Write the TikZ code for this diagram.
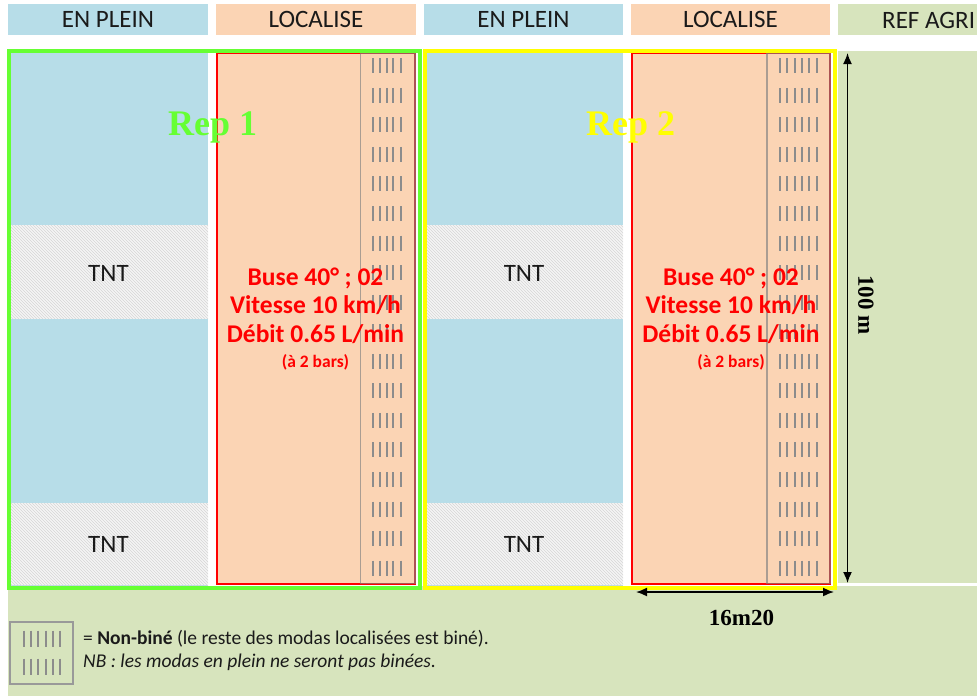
\documentclass[tikz,border=0pt]{standalone}
\usepackage{fontspec}
\setmainfont{Carlito}
\newfontfamily\timesf{Liberation Serif}
\usetikzlibrary{patterns,arrows.meta}
\definecolor{bluef}{HTML}{B7DDE8}
\definecolor{orangef}{HTML}{FBD4B4}
\definecolor{greenf}{HTML}{D7E4BD}
\definecolor{repgreen}{HTML}{66FF33}
\definecolor{repyellow}{HTML}{FFFF00}
\definecolor{dashg}{HTML}{8C8C8C}
\definecolor{txt}{HTML}{1A1A1A}
\begin{document}
\begin{tikzpicture}[x=1pt,y=-1pt,
  hdrbox/.style={minimum height=31, inner sep=0, font=\fontsize{25}{25}\selectfont, text=txt},
  tnt/.style={pattern=north west lines, pattern color=gray!32},
  tntlabel/.style={font=\fontsize{25}{25}\selectfont, text=txt, anchor=base},
  redtxt/.style={font=\bfseries\fontsize{25.5}{25.5}\selectfont, text=red, anchor=base},
  redsmall/.style={font=\bfseries\fontsize{17.5}{18}\selectfont, text=red, anchor=base},
  replabel/.style={font=\timesf\bfseries\fontsize{36}{36}\selectfont, anchor=base west},
  dimlabel/.style={font=\timesf\bfseries\fontsize{23}{23}\selectfont, text=black},
  dashline/.style={draw=dashg, line width=2},
  stripbox/.style={draw=gray, draw opacity=0.65, line width=1.5},
  dimarrow/.style={line width=1.6, {Latex[length=11,width=9]}-{Latex[length=11,width=9]}},
  legtxt/.style={font=\fontsize{19.5}{19.5}\selectfont, text=txt, anchor=base west}]
\useasboundingbox (0,0) rectangle (977,696);
\fill[white] (0,0) rectangle (977,696);

% headers
\node[hdrbox, fill=bluef, minimum width=200] (h1) at (108,19) {EN PLEIN};
\node[hdrbox, fill=orangef, minimum width=200] (h2) at (316,19) {LOCALISE};
\node[hdrbox, fill=bluef, minimum width=199] (h3) at (523.5,19) {EN PLEIN};
\node[hdrbox, fill=orangef, minimum width=199] (h4) at (730.5,19) {LOCALISE};
\node[hdrbox, fill=greenf, minimum width=139] (h5) at (907.5,19) {};
\node[font=\fontsize{25}{25}\selectfont, text=txt, anchor=base west, inner sep=0] (h5t) at (882,28) {REF AGRI};

% green field
\fill[greenf] (838,51) rectangle (977,583);
\fill[greenf] (8,586) rectangle (977,696);

% Rep 1 plots
\fill[bluef] (8.5,50.5) rectangle (208,586);
\fill[gray!8] (8.5,225) rectangle (208,318.5);
\fill[tnt] (8.5,225) rectangle (208,318.5);
\fill[gray!8] (8.5,503) rectangle (208,585);
\fill[tnt] (8.5,503) rectangle (208,585);
\fill[orangef] (217,52.5) rectangle (415,584);
\draw[red, line width=2] (217,52.5) rectangle (415,584);
\draw[stripbox] (360.5,53) rectangle (415,583.5);
\foreach \k in {0,...,17} {
  \pgfmathsetmacro\yy{65.7+29.56*\k}
  \foreach \xx in {373.3,380,386.7,393.3,400.7}
    \draw[dashline] (\xx,\yy-7.5) -- (\xx,\yy+7.5);
}

% Rep 2 plots
\fill[bluef] (424.5,50.5) rectangle (623,586);
\fill[gray!8] (424.5,225) rectangle (623,318.5);
\fill[tnt] (424.5,225) rectangle (623,318.5);
\fill[gray!8] (424.5,503) rectangle (623,585);
\fill[tnt] (424.5,503) rectangle (623,585);
\fill[orangef] (632,52.5) rectangle (830,584);
\draw[red, line width=2] (632,52.5) rectangle (830,584);
\draw[stripbox] (767,53) rectangle (830,583.5);
\foreach \k in {0,...,17} {
  \pgfmathsetmacro\yy{65.7+29.56*\k}
  \foreach \xx in {780,787.3,794.6,801.9,809.2,816.5}
    \draw[dashline] (\xx,\yy-7.5) -- (\xx,\yy+7.5);
}

% rep frames
\draw[repgreen, line width=4] (8.5,50.5) rectangle (419.5,588);
\draw[repyellow, line width=4] (424.5,50.5) rectangle (835,588);

% labels
\node[replabel, text=repgreen, inner sep=0] (rep1) at (168,135) {Rep 1};
\node[replabel, text=repyellow, inner sep=0] (rep2) at (586,135) {Rep 2};

\node[tntlabel] (tnt1) at (108.5,281) {TNT};
\node[tntlabel] (tnt2) at (108.5,552) {TNT};
\node[tntlabel] (tnt3) at (524,281) {TNT};
\node[tntlabel] (tnt4) at (524,552) {TNT};

\node[redtxt] (r1a) at (315.5,285) {Buse 40° ; 02};
\node[redtxt] (r1b) at (315.5,313.5) {Vitesse 10 km/h};
\node[redtxt] (r1c) at (315.5,342) {Débit 0.65 L/min};
\node[redsmall] (r1d) at (315.5,367) {(à 2 bars)};
\node[redtxt] (r2a) at (731,285) {Buse 40° ; 02};
\node[redtxt] (r2b) at (731,313.5) {Vitesse 10 km/h};
\node[redtxt] (r2c) at (731,342) {Débit 0.65 L/min};
\node[redsmall] (r2d) at (731,367) {(à 2 bars)};

% dimensions
\coordinate (vt) at (847.5,53);
\coordinate (vb) at (847.5,583);
\draw[dimarrow] (vt) -- (vb);
\node[dimlabel, rotate=-90] (dim100) at (866,305) {100 m};
\coordinate (hl) at (636,592);
\coordinate (hr) at (834,592);
\draw[dimarrow] (hl) -- (hr);
\node[dimlabel, anchor=base] (dim16) at (741.5,625) {16m20};

% legend
\node[draw=gray!80, line width=1.5, minimum width=63, minimum height=62, inner sep=0] (leg) at (41.5,653) {};
\foreach \yy in {638.5,666.5}
  \foreach \xx in {24,31,38,45.5,52.5,59.5}
    \draw[dashline] (\xx,\yy-8) -- (\xx,\yy+8);
\node[legtxt, inner sep=0] (leg1) at (83,644) {= \textbf{Non-biné} (le reste des modas localisées est biné).};
\node[legtxt, inner sep=0] (leg2) at (83,667) {\itshape NB : les modas en plein ne seront pas binées.};
\end{tikzpicture}
\end{document}
